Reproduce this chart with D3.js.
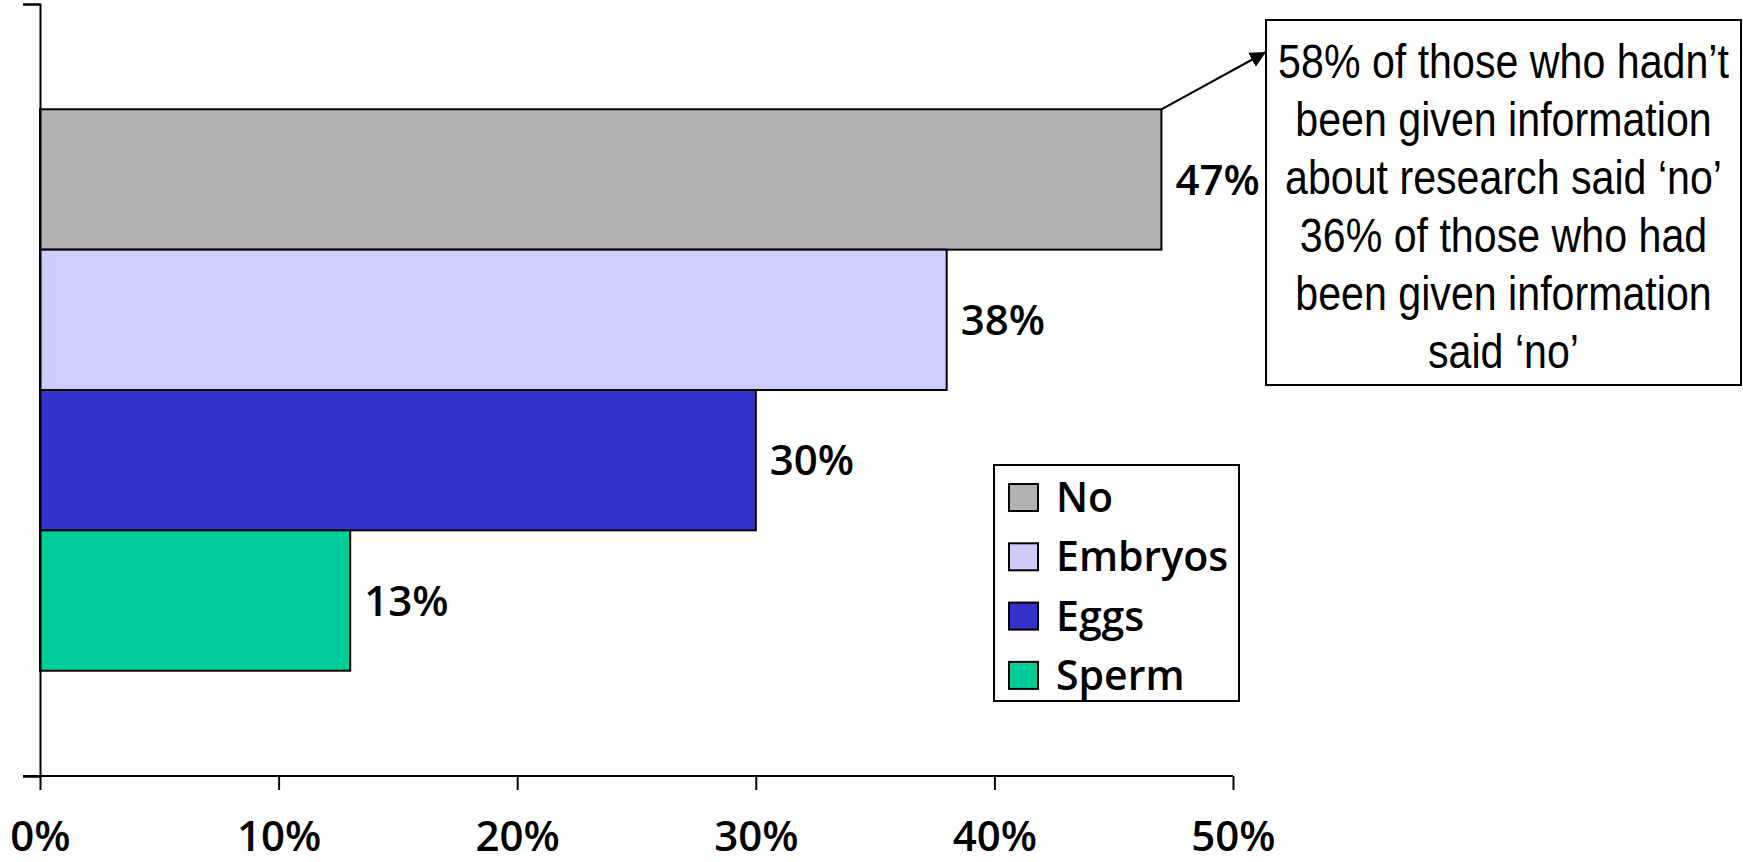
<!DOCTYPE html>
<html>
<head>
<meta charset="utf-8">
<script src="https://cdn.jsdelivr.net/npm/d3@7"></script>
<style>
  body { margin: 0; background: #fff; }
  .lbl { font-family: "Open Sans", "DejaVu Sans", sans-serif; font-weight: 600; font-size: 42px; fill: #000; }
  .leg text { font-size: 41px; }
  .note { font-family: "Liberation Sans", Arial, sans-serif; font-size: 49px; fill: #000; }
</style>
</head>
<body>
<div class="chartdiv"></div>
<script>
//chart data
var series = ["No", "Embryos", "Eggs", "Sperm"];
var values = [47, 38, 30, 13];
var colors = ["#b2b2b2", "#ccccff", "#3333cc", "#00cc99"];
var xTicks = [0, 10, 20, 30, 40, 50];
var noteLines = ["58% of those who hadn\u2019t", "been given information",
    "about research said \u2018no\u2019", "36% of those who had",
    "been given information", "said \u2018no\u2019"];

var width = 1743, height = 862;
var plotLeft = 40, plotRight = 1233, plotTop = 4, plotBottom = 776;

var svg = d3.select("div.chartdiv")
    .append("svg")
    .attr("width", width)
    .attr("height", height);

//scales
var x = d3.scaleLinear()
    .domain([0, 50])
    .range([plotLeft, plotRight]);

var y = d3.scaleBand()
    .domain(series)
    .range([plotTop, plotBottom])
    .paddingInner(0)
    .paddingOuter(0.75);

var data = series.map(function(s, i){
    return {name: s, value: values[i], color: colors[i]};
});

//bars
svg.selectAll(".bar")
    .data(data)
    .enter()
    .append("rect")
    .attr("class", "bar")
    .attr("x", x(0))
    .attr("y", function(d){ return y(d.name); })
    .attr("width", function(d){ return x(d.value) - x(0); })
    .attr("height", y.bandwidth())
    .style("fill", function(d){ return d.color; })
    .style("stroke", "#000")
    .style("stroke-width", 2);

//value labels
svg.selectAll(".val")
    .data(data)
    .enter()
    .append("text")
    .attr("class", "lbl val")
    .attr("x", function(d){ return x(d.value) + 14; })
    .attr("y", function(d){ return y(d.name) + y.bandwidth() / 2; })
    .attr("dy", "0.36em")
    .text(function(d){ return d.value + "%"; });

//x axis
var xAxis = svg.append("g")
    .attr("transform", "translate(0," + plotBottom + ")")
    .call(d3.axisBottom(x)
        .tickValues(xTicks)
        .tickSize(14)
        .tickSizeOuter(0)
        .tickPadding(31)
        .tickFormat(function(d){ return d + "%"; }));
xAxis.select(".domain").attr("d", "M" + (plotLeft - 17) + ",0H" + plotRight);
xAxis.selectAll("line, path").style("stroke", "#000").style("stroke-width", 2);
xAxis.selectAll("text").attr("class", "lbl").attr("font-size", null).attr("font-family", null);

//y axis with ticks at the category edges
var yEdge = d3.scaleLinear().domain([0, 1]).range([plotBottom, plotTop]);
var yAxis = svg.append("g")
    .attr("transform", "translate(" + plotLeft + ",0)")
    .call(d3.axisLeft(yEdge)
        .tickValues([0, 1])
        .tickSize(17)
        .tickFormat(""));
yAxis.selectAll("line, path").style("stroke", "#000").style("stroke-width", 2);

//legend
var legend = svg.append("g").attr("transform", "translate(994,465)");
legend.append("rect")
    .attr("width", 245)
    .attr("height", 236)
    .style("fill", "#fff")
    .style("stroke", "#000")
    .style("stroke-width", 2);

var rows = legend.selectAll(".leg")
    .data(data)
    .enter()
    .append("g")
    .attr("class", "leg")
    .attr("transform", function(d, i){ return "translate(15," + (19 + i * 59.3) + ")"; });
rows.append("rect")
    .attr("width", 29)
    .attr("height", 27)
    .style("fill", function(d){ return d.color; })
    .style("stroke", "#000")
    .style("stroke-width", 2);
rows.append("text")
    .attr("class", "lbl")
    .attr("x", 47)
    .attr("y", 28)
    .text(function(d){ return d.name; });

//callout box
var boxL = 1266, boxT = 20, boxW = 475, boxH = 365;
svg.append("rect")
    .attr("x", boxL)
    .attr("y", boxT)
    .attr("width", boxW)
    .attr("height", boxH)
    .style("fill", "#fff")
    .style("stroke", "#000")
    .style("stroke-width", 2);

//no narrow font installed, so squeeze the regular one horizontally
var note = svg.append("g")
    .attr("transform", "translate(" + (boxL + boxW / 2) + ",0) scale(0.84,1)");
note.selectAll(".note")
    .data(noteLines)
    .enter()
    .append("text")
    .attr("class", "note")
    .attr("text-anchor", "middle")
    .attr("x", 0)
    .attr("y", function(d, i){ return 78 + i * 58; })
    .text(function(d){ return d; });

//arrow from top of the "No" bar to the box
svg.append("defs").append("marker")
    .attr("id", "arrow")
    .attr("viewBox", "0 0 10 10")
    .attr("refX", 10)
    .attr("refY", 5)
    .attr("markerWidth", 8)
    .attr("markerHeight", 8)
    .attr("markerUnits", "strokeWidth")
    .attr("orient", "auto")
    .append("path")
    .attr("d", "M0,0L10,5L0,10Z")
    .style("fill", "#000");

svg.append("line")
    .attr("x1", x(values[0]))
    .attr("y1", y(series[0]))
    .attr("x2", boxL)
    .attr("y2", 52)
    .style("stroke", "#000")
    .style("stroke-width", 2)
    .attr("marker-end", "url(#arrow)");
</script>
</body>
</html>
